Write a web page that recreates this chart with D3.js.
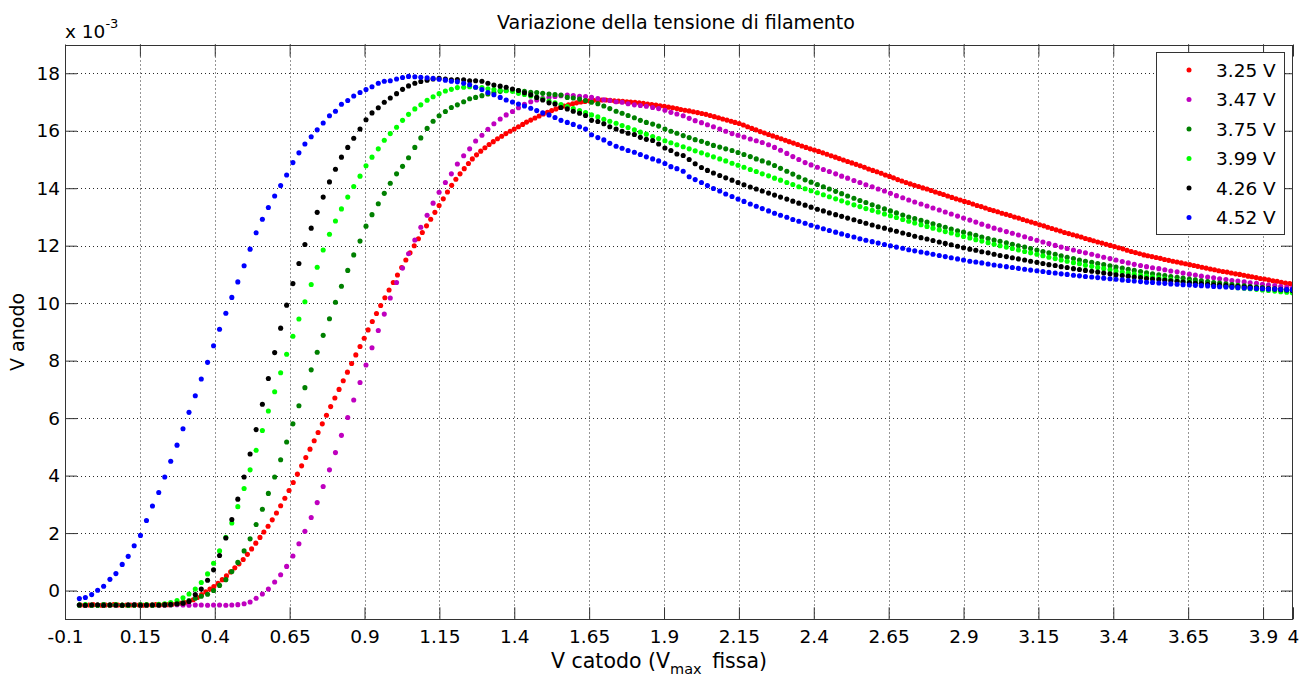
<!DOCTYPE html>
<html>
<head>
<meta charset="utf-8">
<script src="https://cdn.jsdelivr.net/npm/d3@7"></script>
<style>
  body { margin: 0; background: #fff; }
  svg { display: block; }
  text { font-family: "DejaVu Sans", Verdana, sans-serif; fill: #000; }
</style>
</head>
<body>
<svg id="chart" width="1310" height="680"></svg>
<script>
// Cathode voltage samples (V) for the 3.47, 3.75, 3.99, 4.26 and 4.52 V runs
const xGrid = [
  -0.052,-0.032,-0.011,0.009,0.029,0.050,0.070,0.091,0.111,0.131,
  0.152,0.172,0.192,0.213,0.233,0.253,0.274,0.294,0.314,0.335,
  0.355,0.376,0.396,0.416,0.437,0.457,0.477,0.498,0.518,0.538,
  0.559,0.579,0.600,0.620,0.640,0.661,0.681,0.701,0.722,0.742,
  0.762,0.783,0.803,0.823,0.844,0.864,0.885,0.905,0.925,0.946,
  0.966,0.986,1.007,1.027,1.047,1.068,1.088,1.109,1.129,1.149,
  1.170,1.190,1.210,1.231,1.251,1.271,1.292,1.312,1.332,1.353,
  1.373,1.394,1.414,1.434,1.455,1.475,1.495,1.516,1.536,1.556,
  1.577,1.597,1.618,1.638,1.658,1.679,1.699,1.719,1.740,1.760,
  1.780,1.801,1.821,1.841,1.862,1.882,1.903,1.923,1.943,1.964,
  1.984,2.004,2.025,2.045,2.065,2.086,2.106,2.127,2.147,2.167,
  2.188,2.208,2.228,2.249,2.269,2.289,2.310,2.330,2.350,2.371,
  2.391,2.412,2.432,2.452,2.473,2.493,2.513,2.534,2.554,2.574,
  2.595,2.615,2.636,2.656,2.676,2.697,2.717,2.737,2.758,2.778,
  2.798,2.819,2.839,2.859,2.880,2.900,2.921,2.941,2.961,2.982,
  3.002,3.022,3.043,3.063,3.083,3.104,3.124,3.145,3.165,3.185,
  3.206,3.226,3.246,3.267,3.287,3.307,3.328,3.348,3.368,3.389,
  3.409,3.430,3.450,3.470,3.491,3.511,3.531,3.552,3.572,3.592,
  3.613,3.633,3.654,3.674,3.694,3.715,3.735,3.755,3.776,3.796,
  3.816,3.837,3.857,3.878,3.898,3.918,3.939,3.959,3.979,3.998
];

// Cathode voltage samples (V) for the 3.25 V run (finer sampling)
const xRed = [
  -0.048,-0.034,-0.020,-0.006,0.008,0.022,0.036,0.049,0.063,0.077,
  0.091,0.105,0.119,0.133,0.147,0.161,0.175,0.189,0.203,0.216,
  0.230,0.244,0.258,0.272,0.286,0.300,0.314,0.328,0.342,0.356,
  0.370,0.384,0.397,0.411,0.425,0.439,0.453,0.467,0.481,0.495,
  0.509,0.523,0.537,0.551,0.564,0.578,0.592,0.606,0.620,0.634,
  0.648,0.662,0.676,0.690,0.704,0.718,0.732,0.745,0.759,0.773,
  0.787,0.801,0.815,0.829,0.843,0.857,0.871,0.885,0.899,0.912,
  0.926,0.940,0.954,0.968,0.982,0.996,1.010,1.024,1.038,1.052,
  1.066,1.080,1.093,1.107,1.121,1.135,1.149,1.163,1.177,1.191,
  1.205,1.219,1.233,1.247,1.260,1.274,1.288,1.302,1.316,1.330,
  1.344,1.358,1.372,1.386,1.400,1.414,1.428,1.441,1.455,1.469,
  1.483,1.497,1.511,1.525,1.539,1.553,1.567,1.581,1.595,1.608,
  1.622,1.636,1.650,1.664,1.678,1.692,1.706,1.720,1.734,1.748,
  1.762,1.776,1.789,1.803,1.817,1.831,1.845,1.859,1.873,1.887,
  1.901,1.915,1.929,1.943,1.956,1.970,1.984,1.998,2.012,2.026,
  2.040,2.054,2.068,2.082,2.096,2.110,2.124,2.137,2.151,2.165,
  2.179,2.193,2.207,2.221,2.235,2.249,2.263,2.277,2.291,2.305,
  2.318,2.332,2.346,2.360,2.374,2.388,2.402,2.416,2.430,2.444,
  2.458,2.472,2.485,2.499,2.513,2.527,2.541,2.555,2.569,2.583,
  2.597,2.611,2.625,2.639,2.653,2.666,2.680,2.694,2.708,2.722,
  2.736,2.750,2.764,2.778,2.792,2.806,2.820,2.833,2.847,2.861,
  2.875,2.889,2.903,2.917,2.931,2.945,2.959,2.973,2.987,3.000,
  3.014,3.028,3.042,3.056,3.070,3.084,3.098,3.112,3.126,3.140,
  3.154,3.168,3.181,3.195,3.209,3.223,3.237,3.251,3.265,3.279,
  3.293,3.307,3.321,3.334,3.348,3.362,3.376,3.390,3.404,3.418,
  3.432,3.446,3.460,3.474,3.488,3.502,3.515,3.529,3.543,3.557,
  3.571,3.585,3.599,3.613,3.627,3.641,3.655,3.669,3.682,3.696,
  3.710,3.724,3.738,3.752,3.766,3.780,3.794,3.808,3.822,3.836,
  3.850,3.863,3.877,3.891,3.905,3.919,3.933,3.947,3.961,3.975,
  3.989,3.998
];

// Anode voltage, in units of 1e-3 V, one array per filament voltage
const v325 = [
  -0.50,-0.51,-0.50,-0.49,-0.50,-0.51,-0.50,-0.50,-0.49,-0.50,
  -0.51,-0.50,-0.50,-0.49,-0.50,-0.51,-0.50,-0.50,-0.49,-0.50,
  -0.49,-0.49,-0.48,-0.46,-0.44,-0.42,-0.38,-0.32,-0.24,-0.14,
  -0.04,0.05,0.14,0.25,0.38,0.51,0.65,0.79,0.93,1.08,
  1.26,1.45,1.65,1.85,2.04,2.24,2.46,2.70,2.95,3.21,
  3.48,3.76,4.05,4.34,4.63,4.92,5.21,5.50,5.80,6.10,
  6.40,6.70,7.00,7.30,7.60,7.90,8.20,8.49,8.78,9.07,
  9.36,9.64,9.92,10.19,10.46,10.72,10.98,11.24,11.50,11.75,
  12.00,12.24,12.46,12.69,12.92,13.16,13.40,13.63,13.87,14.10,
  14.31,14.50,14.68,14.86,15.02,15.16,15.29,15.41,15.52,15.62,
  15.72,15.81,15.90,15.98,16.06,16.14,16.22,16.30,16.37,16.44,
  16.51,16.58,16.64,16.70,16.76,16.81,16.86,16.90,16.94,16.97,
  17.00,17.02,17.04,17.06,17.06,17.07,17.07,17.06,17.04,17.03,
  17.02,17.01,17.00,16.99,16.97,16.95,16.93,16.91,16.89,16.87,
  16.85,16.82,16.80,16.77,16.74,16.71,16.69,16.66,16.63,16.60,
  16.57,16.53,16.49,16.45,16.41,16.37,16.33,16.29,16.25,16.20,
  16.14,16.08,16.03,15.97,15.92,15.87,15.82,15.77,15.72,15.67,
  15.62,15.57,15.52,15.47,15.42,15.37,15.33,15.28,15.23,15.18,
  15.13,15.08,15.03,14.98,14.93,14.88,14.83,14.78,14.73,14.67,
  14.62,14.57,14.52,14.46,14.41,14.36,14.30,14.25,14.20,14.15,
  14.10,14.06,14.01,13.97,13.92,13.87,13.82,13.78,13.73,13.68,
  13.63,13.59,13.54,13.50,13.45,13.40,13.36,13.31,13.26,13.22,
  13.18,13.13,13.09,13.05,13.00,12.96,12.91,12.87,12.82,12.78,
  12.73,12.69,12.64,12.60,12.55,12.51,12.46,12.42,12.38,12.34,
  12.30,12.25,12.21,12.17,12.13,12.09,12.05,12.01,11.97,11.93,
  11.89,11.84,11.80,11.76,11.72,11.68,11.65,11.62,11.59,11.56,
  11.52,11.49,11.46,11.43,11.40,11.37,11.34,11.31,11.28,11.25,
  11.22,11.19,11.16,11.13,11.10,11.08,11.05,11.02,11.00,10.97,
  10.94,10.92,10.89,10.86,10.84,10.81,10.78,10.76,10.73,10.70,
  10.68,10.66
];

const v347 = [
  -0.50,-0.51,-0.50,-0.50,-0.49,-0.50,-0.51,-0.50,-0.50,-0.49,
  -0.50,-0.51,-0.50,-0.50,-0.51,-0.50,-0.49,-0.50,-0.51,-0.50,
  -0.50,-0.51,-0.50,-0.50,-0.51,-0.50,-0.49,-0.46,-0.40,-0.27,
  -0.12,0.05,0.30,0.55,0.84,1.20,1.63,2.06,2.54,3.06,
  3.62,4.20,4.80,5.40,6.02,6.63,7.24,7.85,8.45,9.05,
  9.62,10.18,10.72,11.22,11.72,12.20,12.64,13.06,13.48,13.86,
  14.20,14.50,14.84,15.13,15.37,15.64,15.84,16.05,16.24,16.41,
  16.55,16.67,16.80,16.92,17.01,17.07,17.13,17.16,17.19,17.22,
  17.24,17.22,17.20,17.19,17.16,17.12,17.08,17.05,17.01,16.99,
  16.94,16.90,16.88,16.85,16.81,16.77,16.71,16.64,16.58,16.52,
  16.43,16.35,16.28,16.21,16.14,16.06,15.98,15.90,15.84,15.78,
  15.71,15.65,15.59,15.51,15.42,15.32,15.21,15.10,15.00,14.89,
  14.81,14.73,14.65,14.58,14.50,14.42,14.35,14.27,14.20,14.12,
  14.05,13.97,13.90,13.82,13.74,13.67,13.59,13.52,13.45,13.38,
  13.31,13.24,13.17,13.10,13.03,12.96,12.89,12.82,12.75,12.68,
  12.61,12.55,12.49,12.43,12.37,12.31,12.25,12.19,12.13,12.07,
  12.01,11.95,11.90,11.85,11.80,11.75,11.70,11.65,11.60,11.55,
  11.50,11.45,11.40,11.35,11.31,11.27,11.23,11.20,11.16,11.12,
  11.09,11.05,11.01,10.98,10.94,10.91,10.88,10.85,10.82,10.79,
  10.77,10.74,10.71,10.69,10.66,10.63,10.61,10.58,10.55,10.53
];

const v375 = [
  -0.50,-0.50,-0.51,-0.50,-0.49,-0.50,-0.50,-0.51,-0.50,-0.50,
  -0.49,-0.50,-0.51,-0.50,-0.50,-0.49,-0.46,-0.42,-0.35,-0.27,
  -0.20,-0.13,0.00,0.18,0.38,0.66,0.98,1.38,1.80,2.30,
  2.83,3.38,3.95,4.55,5.17,5.80,6.43,7.06,7.68,8.29,
  8.88,9.46,10.03,10.59,11.14,11.68,12.16,12.68,13.08,13.46,
  13.82,14.17,14.50,14.76,15.06,15.42,15.75,16.08,16.33,16.52,
  16.67,16.81,16.90,17.01,17.11,17.16,17.22,17.28,17.33,17.37,
  17.40,17.42,17.40,17.37,17.34,17.33,17.30,17.28,17.26,17.24,
  17.16,17.14,17.10,17.05,16.99,16.94,16.86,16.77,16.68,16.61,
  16.53,16.45,16.36,16.29,16.23,16.16,16.06,15.98,15.91,15.83,
  15.76,15.69,15.63,15.56,15.49,15.43,15.37,15.31,15.24,15.17,
  15.10,15.02,14.95,14.88,14.79,14.69,14.59,14.49,14.39,14.29,
  14.21,14.13,14.05,13.97,13.89,13.81,13.73,13.65,13.57,13.50,
  13.42,13.35,13.28,13.21,13.14,13.07,13.00,12.94,12.88,12.82,
  12.76,12.70,12.64,12.58,12.52,12.47,12.41,12.36,12.30,12.25,
  12.20,12.15,12.10,12.05,12.00,11.95,11.90,11.85,11.80,11.75,
  11.70,11.65,11.60,11.55,11.50,11.46,11.42,11.38,11.34,11.30,
  11.26,11.22,11.18,11.14,11.10,11.06,11.02,10.99,10.96,10.93,
  10.90,10.87,10.84,10.81,10.78,10.75,10.72,10.70,10.67,10.65,
  10.62,10.60,10.58,10.56,10.54,10.52,10.50,10.48,10.46,10.44
];

const v399 = [
  -0.50,-0.49,-0.50,-0.51,-0.50,-0.50,-0.49,-0.50,-0.51,-0.50,
  -0.50,-0.49,-0.50,-0.48,-0.46,-0.42,-0.35,-0.25,-0.12,0.05,
  0.28,0.58,0.95,1.38,1.85,2.35,2.92,3.55,4.20,4.88,
  5.57,6.25,6.92,7.58,8.22,8.85,9.45,10.05,10.65,11.25,
  11.85,12.40,12.86,13.28,13.69,14.06,14.42,14.78,15.08,15.37,
  15.67,15.90,16.12,16.36,16.57,16.76,16.90,17.06,17.18,17.29,
  17.38,17.44,17.50,17.51,17.53,17.51,17.50,17.46,17.43,17.41,
  17.39,17.37,17.30,17.26,17.21,17.16,17.10,17.03,16.97,16.91,
  16.84,16.77,16.70,16.63,16.55,16.48,16.40,16.33,16.26,16.18,
  16.11,16.03,15.95,15.88,15.80,15.73,15.65,15.58,15.51,15.44,
  15.37,15.30,15.23,15.16,15.09,15.02,14.95,14.87,14.80,14.73,
  14.65,14.58,14.50,14.43,14.35,14.28,14.20,14.13,14.05,13.98,
  13.91,13.84,13.77,13.70,13.63,13.56,13.49,13.42,13.36,13.29,
  13.23,13.17,13.10,13.04,12.98,12.91,12.85,12.79,12.73,12.67,
  12.61,12.55,12.49,12.44,12.38,12.32,12.27,12.21,12.16,12.10,
  12.05,12.00,11.95,11.90,11.85,11.80,11.75,11.70,11.65,11.60,
  11.55,11.50,11.46,11.41,11.37,11.32,11.28,11.24,11.20,11.16,
  11.12,11.08,11.05,11.01,10.97,10.94,10.91,10.88,10.85,10.82,
  10.79,10.76,10.74,10.71,10.68,10.66,10.63,10.61,10.59,10.56,
  10.54,10.52,10.50,10.48,10.46,10.44,10.42,10.40,10.38,10.36
];

const v426 = [
  -0.50,-0.51,-0.50,-0.50,-0.51,-0.50,-0.50,-0.51,-0.50,-0.50,
  -0.51,-0.50,-0.50,-0.50,-0.49,-0.48,-0.46,-0.44,-0.38,-0.14,
  0.05,0.36,0.72,1.22,1.83,2.47,3.18,3.95,4.75,5.60,
  6.48,7.38,8.28,9.13,9.93,10.68,11.38,12.04,12.61,13.16,
  13.69,14.22,14.66,15.08,15.42,15.74,16.06,16.38,16.62,16.80,
  16.99,17.14,17.29,17.44,17.56,17.65,17.71,17.76,17.80,17.82,
  17.80,17.77,17.78,17.77,17.74,17.74,17.72,17.65,17.59,17.55,
  17.51,17.45,17.40,17.32,17.25,17.16,17.07,16.97,16.93,16.81,
  16.76,16.68,16.61,16.53,16.36,16.32,16.24,16.14,16.06,15.98,
  15.91,15.87,15.77,15.70,15.66,15.54,15.40,15.31,15.19,15.14,
  15.00,14.85,14.72,14.62,14.53,14.44,14.36,14.28,14.20,14.12,
  14.04,13.97,13.90,13.83,13.76,13.69,13.62,13.55,13.48,13.41,
  13.34,13.27,13.21,13.14,13.08,13.02,12.96,12.90,12.84,12.78,
  12.72,12.66,12.61,12.55,12.50,12.44,12.39,12.33,12.28,12.23,
  12.18,12.13,12.08,12.03,11.98,11.93,11.88,11.84,11.79,11.75,
  11.70,11.66,11.62,11.58,11.54,11.50,11.46,11.42,11.38,11.34,
  11.31,11.27,11.24,11.20,11.17,11.14,11.11,11.08,11.05,11.02,
  10.99,10.96,10.94,10.91,10.89,10.86,10.84,10.82,10.80,10.78,
  10.76,10.74,10.72,10.70,10.68,10.66,10.64,10.63,10.61,10.59,
  10.58,10.56,10.55,10.53,10.52,10.50,10.49,10.47,10.46,10.44
];

const v452 = [
  -0.28,-0.24,-0.14,0.01,0.15,0.39,0.59,0.91,1.19,1.56,
  1.92,2.44,2.94,3.41,3.95,4.50,5.06,5.63,6.20,6.78,
  7.36,7.94,8.52,9.09,9.65,10.20,10.74,11.30,11.88,12.45,
  12.92,13.33,13.73,14.09,14.46,14.89,15.23,15.54,15.79,16.03,
  16.27,16.52,16.68,16.92,17.05,17.21,17.33,17.43,17.53,17.65,
  17.72,17.74,17.80,17.85,17.89,17.88,17.86,17.84,17.82,17.79,
  17.76,17.72,17.70,17.65,17.60,17.51,17.43,17.33,17.25,17.16,
  17.07,17.00,16.93,16.86,16.78,16.70,16.62,16.55,16.46,16.36,
  16.29,16.22,16.14,16.06,15.86,15.76,15.68,15.56,15.46,15.39,
  15.31,15.25,15.17,15.09,15.02,14.95,14.86,14.75,14.68,14.59,
  14.40,14.30,14.20,14.09,13.99,13.90,13.80,13.71,13.62,13.54,
  13.45,13.37,13.29,13.21,13.13,13.06,12.99,12.91,12.85,12.78,
  12.71,12.65,12.59,12.53,12.47,12.41,12.35,12.30,12.24,12.19,
  12.14,12.09,12.04,12.00,11.95,11.91,11.86,11.82,11.78,11.74,
  11.70,11.66,11.62,11.58,11.54,11.50,11.46,11.43,11.40,11.36,
  11.33,11.30,11.27,11.24,11.21,11.18,11.15,11.13,11.10,11.07,
  11.05,11.02,11.00,10.97,10.95,10.93,10.91,10.89,10.87,10.85,
  10.83,10.81,10.79,10.77,10.75,10.73,10.72,10.70,10.69,10.67,
  10.66,10.64,10.63,10.62,10.61,10.60,10.58,10.57,10.56,10.55,
  10.54,10.53,10.52,10.51,10.50,10.49,10.49,10.48,10.47,10.47
];

const seriesLabels = ["3.25 V", "3.47 V", "3.75 V", "3.99 V", "4.26 V", "4.52 V"];
const seriesColors = ["#ff0000", "#bf00bf", "#008000", "#00ff00", "#000000", "#0000ff"];
const xTicks = [-0.1, 0.15, 0.4, 0.65, 0.9, 1.15, 1.4, 1.65, 1.9, 2.15, 2.4, 2.65, 2.9, 3.15, 3.4, 3.65, 3.9, 4];
const xTickLabels = ["-0.1", "0.15", "0.4", "0.65", "0.9", "1.15", "1.4", "1.65", "1.9", "2.15", "2.4", "2.65", "2.9", "3.15", "3.4", "3.65", "3.9", "4"];
const yTicks = [0, 2, 4, 6, 8, 10, 12, 14, 16, 18];

const series = [
  { label: seriesLabels[0], color: seriesColors[0], xs: xRed,  ys: v325 },
  { label: seriesLabels[1], color: seriesColors[1], xs: xGrid, ys: v347 },
  { label: seriesLabels[2], color: seriesColors[2], xs: xGrid, ys: v375 },
  { label: seriesLabels[3], color: seriesColors[3], xs: xGrid, ys: v399 },
  { label: seriesLabels[4], color: seriesColors[4], xs: xGrid, ys: v426 },
  { label: seriesLabels[5], color: seriesColors[5], xs: xGrid, ys: v452 }
];

const FONT = '"DejaVu Sans", Verdana, sans-serif';
const box = { left: 65, right: 1293, top: 44.5, bottom: 619.3 };

const svg = d3.select("#chart");
svg.append("rect").attr("width", 1310).attr("height", 680).attr("fill", "#fff");

const x = d3.scaleLinear().domain([-0.1, 4]).range([box.left, box.right]);
const y = d3.scaleLinear().domain([-1, 19]).range([box.bottom, box.top]);

// dotted grid
const grid = svg.append("g").attr("stroke", "#2a2a2a").attr("stroke-width", 1)
  .attr("stroke-dasharray", "1,3").attr("fill", "none");
grid.selectAll("line.gx").data(xTicks.slice(1, -1)).join("line").attr("class", "gx")
  .attr("x1", d => Math.round(x(d)) + 0.5).attr("x2", d => Math.round(x(d)) + 0.5)
  .attr("y1", box.top).attr("y2", box.bottom);
grid.selectAll("line.gy").data(yTicks).join("line").attr("class", "gy")
  .attr("y1", d => Math.round(y(d)) + 0.5).attr("y2", d => Math.round(y(d)) + 0.5)
  .attr("x1", box.left).attr("x2", box.right);

// data markers
svg.append("defs").append("clipPath").attr("id", "plotClip")
  .append("rect").attr("x", box.left).attr("y", box.top)
  .attr("width", box.right - box.left).attr("height", box.bottom - box.top);

const marks = svg.append("g").attr("clip-path", "url(#plotClip)");
series.forEach(s => {
  const pts = s.xs.map((v, i) => [v, s.ys[i]]);
  marks.append("g").attr("fill", s.color)
    .selectAll("circle").data(pts).join("circle")
    .attr("cx", d => x(d[0])).attr("cy", d => y(d[1])).attr("r", 2.55);
});

// axes with inward ticks on all four sides
function styleAxis(g) {
  g.select(".domain").remove();
  g.selectAll(".tick line").attr("stroke", "#333");
  g.selectAll(".tick text").attr("font-family", FONT).attr("font-size", 18.5).attr("fill", "#000");
}
svg.append("g").attr("transform", `translate(0,${box.bottom})`)
  .call(d3.axisBottom(x).tickValues(xTicks).tickFormat((d, i) => xTickLabels[i])
    .tickSizeInner(-12).tickSizeOuter(0).tickPadding(11))
  .call(styleAxis);
svg.append("g").attr("transform", `translate(0,${box.top})`)
  .call(d3.axisTop(x).tickValues(xTicks).tickFormat("").tickSizeInner(-12).tickSizeOuter(0))
  .call(styleAxis);
svg.append("g").attr("transform", `translate(${box.left},0)`)
  .call(d3.axisLeft(y).tickValues(yTicks).tickFormat(d3.format("d"))
    .tickSizeInner(-12).tickSizeOuter(0).tickPadding(5))
  .call(styleAxis);
svg.append("g").attr("transform", `translate(${box.right},0)`)
  .call(d3.axisRight(y).tickValues(yTicks).tickFormat("").tickSizeInner(-12).tickSizeOuter(0))
  .call(styleAxis);

// axes box
svg.append("rect")
  .attr("x", box.left + 0.5).attr("y", Math.round(box.top) + 0.5)
  .attr("width", box.right - box.left - 1).attr("height", Math.round(box.bottom) - Math.round(box.top))
  .attr("fill", "none").attr("stroke", "#333").attr("stroke-width", 1);

// exponent marker
const expo = svg.append("text").attr("x", 65).attr("y", 38).attr("font-size", 18.5);
expo.append("tspan").text("x 10");
expo.append("tspan").attr("dy", -10).attr("font-size", 13).text("-3");

// title
svg.append("text").attr("x", 676).attr("y", 29)
  .attr("text-anchor", "middle").attr("font-size", 19)
  .text("Variazione della tensione di filamento");

// axis labels
svg.append("text").attr("transform", `translate(24,${(box.top + box.bottom) / 2}) rotate(-90)`)
  .attr("text-anchor", "middle").attr("font-size", 19).text("V anodo");

const xl = svg.append("text").attr("x", 551).attr("y", 668)
  .attr("text-anchor", "start").attr("font-size", 20.5);
xl.append("tspan").text("V catodo (V");
xl.append("tspan").attr("dy", 6).attr("font-size", 14.5).text("max");
xl.append("tspan").attr("dy", -6).attr("dx", 4).text(" fissa)");

// legend
const lg = svg.append("g");
lg.append("rect").attr("x", 1156.5).attr("y", 52.5).attr("width", 128).attr("height", 182)
  .attr("fill", "#fff").attr("stroke", "#333").attr("stroke-width", 1);
series.forEach((s, k) => {
  const cy = 70 + k * 29.5;
  lg.append("circle").attr("cx", 1189).attr("cy", cy).attr("r", 2.5).attr("fill", s.color);
  lg.append("text").attr("x", 1216).attr("y", cy).attr("dy", "0.36em")
    .attr("font-size", 18.5).text(s.label);
});
</script>
</body>
</html>
